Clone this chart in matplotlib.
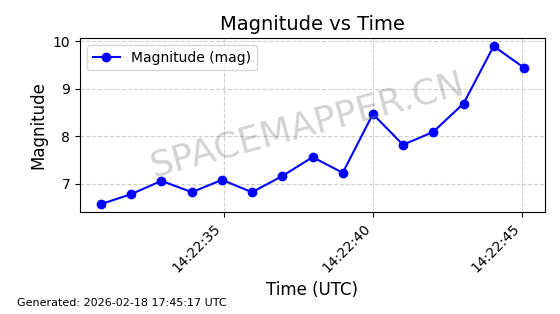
import datetime as dt
import matplotlib
matplotlib.use("Agg")
import matplotlib.pyplot as plt
import matplotlib.dates as mdates

# observation times (seconds after 14:22:00) and magnitudes
seconds = [30.89, 31.90, 32.91, 33.93, 34.94, 35.95, 36.96, 37.98,
           38.99, 40.00, 41.01, 42.02, 43.04, 44.05, 45.06]
magnitude = [6.57, 6.78, 7.06, 6.82, 7.08, 6.82, 7.16, 7.56,
             7.23, 8.47, 7.82, 8.09, 8.69, 9.90, 9.45]

base = dt.datetime(2026, 2, 18, 14, 22, 0)
times = [base + dt.timedelta(seconds=s) for s in seconds]

fig, ax = plt.subplots(figsize=(5.6, 3.14), dpi=100)
ax.plot(times, magnitude, 'o-', color='blue', label='Magnitude (mag)')

ax.set_title('Magnitude vs Time', fontsize=14)
ax.set_xlabel('Time (UTC)', fontsize=12)
ax.set_ylabel('Magnitude', fontsize=12)
ax.grid(True, linestyle='--', alpha=0.6)
ax.legend(loc='upper left')

ax.xaxis.set_major_locator(mdates.SecondLocator(bysecond=range(0, 60, 5)))
ax.xaxis.set_major_formatter(mdates.DateFormatter('%H:%M:%S'))
plt.setp(ax.get_xticklabels(), rotation=45, ha='right')

# watermark
ax.text(0.49, 0.5, 'SPACEMAPPER.CN', transform=ax.transAxes, fontsize=26,
        color='gray', alpha=0.35, rotation=15, ha='center', va='center')

fig.subplots_adjust(left=0.143, right=0.973, top=0.878, bottom=0.325)
fig.text(0.03, 0.025, 'Generated: 2026-02-18 17:45:17 UTC', fontsize=8)

plt.savefig('out.png', dpi=100)
